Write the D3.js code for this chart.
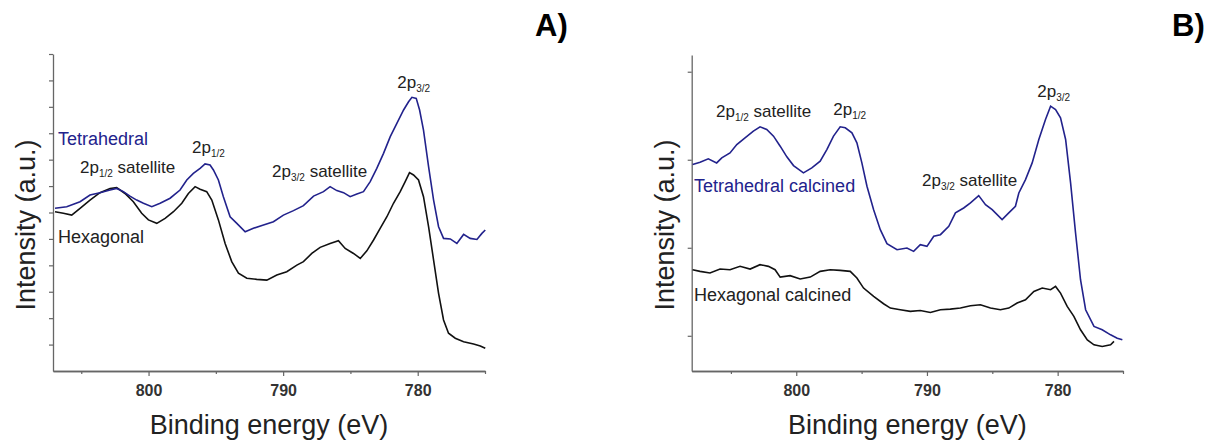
<!DOCTYPE html>
<html>
    <head>
        <meta charset="utf-8">
        <script src="https://d3js.org/d3.v7.min.js"></script>
        <title>Co 2p XPS</title>
        <style>
            body { margin: 0; background-color: #fff }
            svg text { font-family: "Liberation Sans", Arial, sans-serif }
        </style>
    </head>
    <body>
        <script>
            /* values: [binding energy (eV), intensity (a.u.)] */
            const tetA = [[806.95,6.16],[806.08,6.22],[805.09,6.41],[804.35,6.66],[803.61,6.75],[802.86,6.85],[802.37,6.91],[801.87,6.79],[801.38,6.62],[800.88,6.47],[800.38,6.35],[799.76,6.22],[799.14,6.35],[798.40,6.54],[797.66,6.85],[797.16,7.23],[796.67,7.48],[796.17,7.67],[795.80,7.84],[795.43,7.80],[795.18,7.61],[794.81,7.23],[794.44,6.60],[793.94,5.84],[793.44,5.59],[792.82,5.27],[792.21,5.40],[791.46,5.53],[790.72,5.65],[789.98,5.90],[789.23,6.07],[788.49,6.26],[787.74,6.62],[787.00,6.79],[786.51,6.98],[786.01,6.83],[785.51,6.75],[785.02,6.60],[784.52,6.70],[784.03,6.79],[783.53,7.17],[783.04,7.67],[782.54,8.24],[782.04,8.87],[781.55,9.37],[781.05,9.88],[780.68,10.19],[780.43,10.36],[780.11,10.32],[779.86,9.88],[779.57,9.12],[779.19,7.73],[778.82,6.47],[778.45,5.46],[778.08,5.02],[777.58,5.00],[777.09,4.83],[776.59,5.17],[776.10,5.02],[775.60,4.98],[775.23,5.21],[774.98,5.34]]
            const hexA = [[806.95,6.03],[806.33,5.97],[805.71,5.90],[805.09,6.16],[804.35,6.47],[803.61,6.75],[802.86,6.91],[802.37,6.94],[801.75,6.72],[801.13,6.41],[800.51,5.97],[800.01,5.72],[799.39,5.59],[798.77,5.78],[798.15,6.03],[797.53,6.35],[797.04,6.72],[796.54,6.98],[796.17,6.88],[795.68,6.79],[795.30,6.47],[794.81,5.72],[794.31,4.83],[793.82,4.14],[793.32,3.70],[792.70,3.51],[791.96,3.47],[791.21,3.44],[790.47,3.63],[789.73,3.76],[788.98,4.01],[788.49,4.14],[787.87,4.45],[787.25,4.68],[786.51,4.83],[785.89,4.93],[785.39,4.64],[784.77,4.45],[784.27,4.26],[783.78,4.55],[783.28,4.96],[782.79,5.40],[782.29,5.84],[781.80,6.35],[781.30,6.79],[780.93,7.17],[780.61,7.51],[780.31,7.42],[779.94,7.23],[779.57,6.60],[779.19,5.46],[778.82,4.20],[778.45,2.94],[778.08,1.93],[777.71,1.43],[777.21,1.24],[776.59,1.11],[775.85,1.02],[775.35,0.95],[774.98,0.86]]
            const tetB = [[807.93,1.945],[807.36,1.972],[806.73,2.010],[806.09,1.964],[805.70,2.021],[805.07,2.078],[804.55,2.173],[803.92,2.249],[803.28,2.325],[802.77,2.374],[802.26,2.344],[801.74,2.268],[801.23,2.154],[800.72,2.033],[800.21,1.934],[799.45,1.851],[798.81,1.907],[798.17,1.983],[797.66,2.116],[797.15,2.268],[796.64,2.374],[796.25,2.363],[795.74,2.306],[795.36,2.192],[794.98,1.964],[794.59,1.699],[794.08,1.433],[793.57,1.206],[793.06,1.047],[792.29,0.978],[791.53,0.997],[791.02,0.959],[790.51,1.035],[790.00,1.016],[789.48,1.130],[788.97,1.149],[788.33,1.244],[787.82,1.396],[787.19,1.452],[786.67,1.509],[786.04,1.593],[785.52,1.490],[785.01,1.433],[784.25,1.320],[783.74,1.396],[783.23,1.471],[782.97,1.623],[782.46,1.775],[781.95,1.964],[781.44,2.230],[780.93,2.457],[780.54,2.609],[780.16,2.571],[779.78,2.476],[779.39,2.230],[779.01,1.737],[778.63,1.168],[778.25,0.637],[777.86,0.296],[777.22,0.106],[776.59,0.068],[775.95,0.011],[775.44,-0.027],[775.05,-0.046]]
            const hexB = [[807.93,0.751],[807.36,0.732],[806.60,0.713],[805.83,0.758],[805.07,0.751],[804.30,0.789],[803.53,0.758],[802.77,0.808],[802.13,0.789],[801.62,0.751],[801.23,0.667],[800.47,0.683],[799.70,0.645],[798.93,0.667],[798.17,0.732],[797.40,0.751],[796.64,0.743],[795.87,0.732],[795.36,0.656],[794.85,0.542],[794.08,0.447],[793.32,0.364],[792.80,0.315],[792.04,0.296],[791.27,0.277],[790.51,0.288],[789.74,0.265],[788.97,0.296],[788.21,0.303],[787.44,0.315],[786.67,0.341],[785.91,0.353],[785.14,0.315],[784.38,0.296],[783.74,0.315],[783.10,0.372],[782.46,0.410],[781.82,0.504],[781.18,0.542],[780.54,0.523],[780.16,0.561],[779.78,0.485],[779.27,0.334],[778.76,0.220],[778.25,0.068],[777.73,-0.046],[777.22,-0.102],[776.59,-0.121],[775.95,-0.102],[775.69,-0.064]]

            const majorTicks = [800, 790, 780]
            const minorTicks = [805, 795, 785, 775]
            const yTicksA = [1, 2, 3, 4, 5, 6, 7, 8, 9, 10, 11, 12]
            const yTicksB = [0, 1, 2, 3]

            /* label text, sub = subscript part, and where it sits in data units */
            const notesA = [
                { pre: 'Tetrahedral', sub: '', post: '', e: 806.73, i: 8.55, blue: true, big: true },
                { pre: 'Hexagonal', sub: '', post: '', e: 806.73, i: 4.84, big: true },
                { pre: '2p', sub: '1/2', post: ' satellite', e: 805.09, i: 7.49 },
                { pre: '2p', sub: '1/2', post: '', e: 796.77, i: 8.25 },
                { pre: '2p', sub: '3/2', post: ' satellite', e: 790.82, i: 7.34 },
                { pre: '2p', sub: '3/2', post: '', e: 781.52, i: 10.71 }
            ]
            const notesB = [
                { pre: '2p', sub: '1/2', post: ' satellite', e: 806.14, i: 2.49 },
                { pre: '2p', sub: '1/2', post: '', e: 797.17, i: 2.51 },
                { pre: 'Tetrahedral calcined', sub: '', post: '', e: 807.82, i: 1.63, blue: true, big: true },
                { pre: '2p', sub: '3/2', post: ' satellite', e: 790.38, i: 1.70 },
                { pre: '2p', sub: '3/2', post: '', e: 781.56, i: 2.71 },
                { pre: 'Hexagonal calcined', sub: '', post: '', e: 807.82, i: 0.39, big: true }
            ]

            const width = 1219
            const height = 443
            const blue = '#22228c'
            const black = '#111'

            const svg = d3.select('body')
                .append('svg')
                    .attr('width', width)
                    .attr('height', height)

            const drawPanel = (p) => {
                const x = d3.scaleLinear().domain(p.xDomain).range([p.left, p.right])
                const y = d3.scaleLinear().domain(p.yDomain).range([p.bottom, p.top])
                const g = svg.append('g')

                /* minor x ticks first, then the major ones with labels */
                g.append('g')
                    .attr('transform', `translate(0,${p.bottom})`)
                    .call(d3.axisBottom(x).tickValues(minorTicks).tickSize(3).tickSizeOuter(0).tickFormat(''))
                const xAxis = g.append('g')
                    .attr('transform', `translate(0,${p.bottom})`)
                    .call(d3.axisBottom(x).tickValues(majorTicks).tickSize(5).tickSizeOuter(0).tickPadding(9))
                xAxis.selectAll('text')
                    .style('font-size', '16px')
                    .style('font-weight', 'bold')
                    .attr('fill', '#333')

                g.append('g')
                    .attr('transform', `translate(${p.left},0)`)
                    .call(d3.axisLeft(y).tickValues(p.yTicks).tickSize(4).tickSizeOuter(0).tickFormat(''))

                g.selectAll('.domain').attr('stroke', '#666').attr('stroke-width', 1.3)
                g.selectAll('.tick line').attr('stroke', '#666').attr('stroke-width', 1.2)

                const line = d3.line().x(d => x(d[0])).y(d => y(d[1]))
                g.append('path').datum(p.hex)
                    .attr('d', line).attr('fill', 'none')
                    .attr('stroke', black).attr('stroke-width', 1.6)
                g.append('path').datum(p.tet)
                    .attr('d', line).attr('fill', 'none')
                    .attr('stroke', blue).attr('stroke-width', 1.6)

                /* axis titles */
                g.append('text')
                    .attr('x', (p.left + p.right) / 2)
                    .attr('y', 434)
                    .attr('text-anchor', 'middle')
                    .attr('fill', '#222')
                    .style('font-size', '27px')
                    .text('Binding energy (eV)')
                g.append('text')
                    .attr('transform', `translate(${p.left - 18},225) rotate(-90)`)
                    .attr('text-anchor', 'middle')
                    .attr('fill', '#222')
                    .style('font-size', '27px')
                    .text('Intensity (a.u.)')

                /* peak labels */
                p.notes.forEach(n => {
                    const t = g.append('text')
                        .attr('x', x(n.e))
                        .attr('y', y(n.i))
                        .attr('fill', n.blue ? blue : '#222')
                        .style('font-size', n.big ? '18px' : '17px')
                    t.append('tspan').text(n.pre)
                    if (n.sub) {
                        t.append('tspan').attr('dy', 4).style('font-size', '10px').text(n.sub)
                        t.append('tspan').attr('dy', -4).text(n.post)
                    }
                })

                g.append('text')
                    .attr('x', p.tagX)
                    .attr('y', 36)
                    .style('font-size', '31px')
                    .style('font-weight', 'bold')
                    .attr('fill', '#000')
                    .text(p.tag)
            }

            drawPanel({
                left: 53, right: 485, top: 54, bottom: 371,
                xDomain: [807.1, 775], yDomain: [0, 12], yTicks: yTicksA,
                tet: tetA, hex: hexA, notes: notesA, tag: 'A)', tagX: 535
            })
            drawPanel({
                left: 691.7, right: 1123, top: 55, bottom: 371,
                xDomain: [808, 775], yDomain: [-0.4, 3.19], yTicks: yTicksB,
                tet: tetB, hex: hexB, notes: notesB, tag: 'B)', tagX: 1172
            })
        </script>
    </body>
</html>
